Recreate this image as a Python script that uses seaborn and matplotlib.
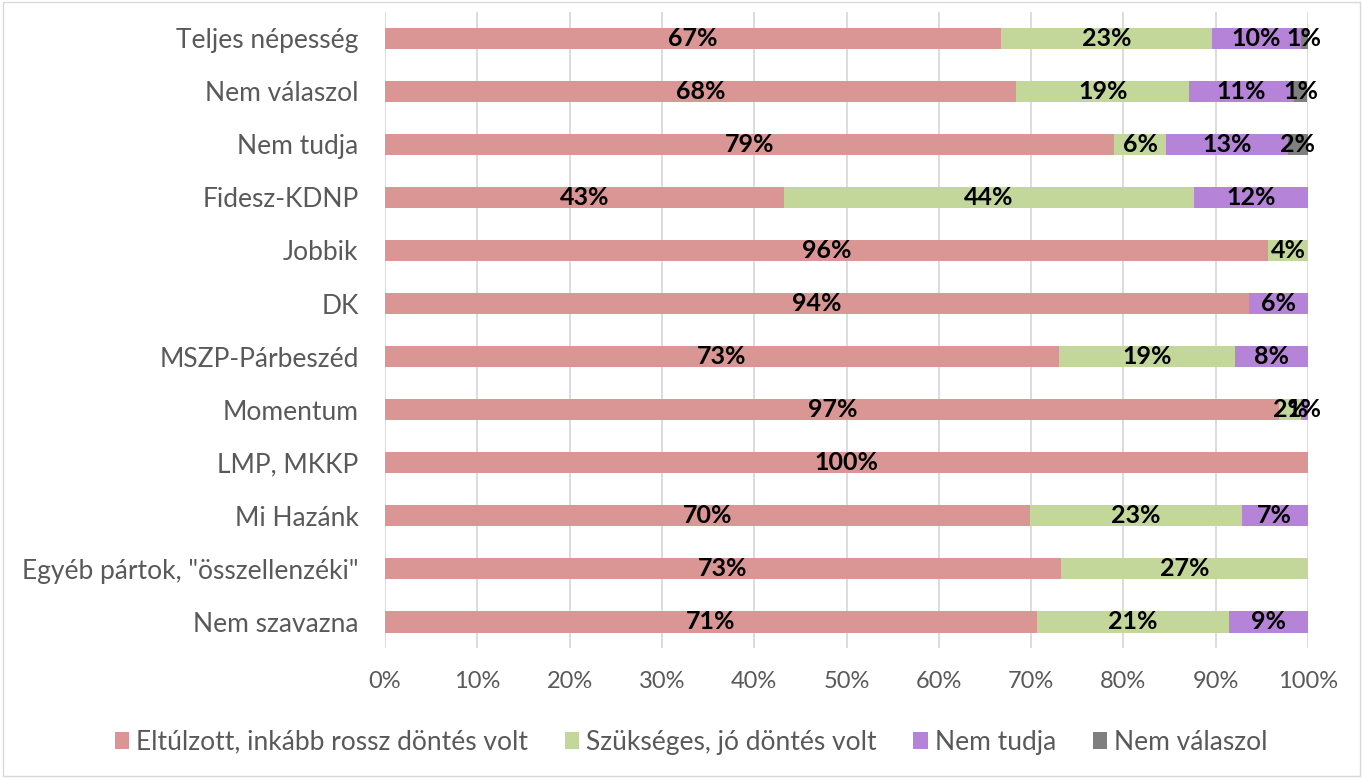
import matplotlib
matplotlib.use("Agg")
import matplotlib.pyplot as plt
import seaborn as sns
import pandas as pd
import numpy as np
from matplotlib.patches import Patch, Rectangle

categories = ["Teljes népesség", "Nem válaszol", "Nem tudja", "Fidesz-KDNP", "Jobbik", "DK",
              "MSZP-Párbeszéd", "Momentum", "LMP, MKKP", "Mi Hazánk",
              "Egyéb pártok, \"összellenzéki\"", "Nem szavazna"]
series_names = ["Eltúlzott, inkább rossz döntés volt", "Szükséges, jó döntés volt",
                "Nem tudja", "Nem válaszol"]
eltulzott = [66.7, 68.4, 79.0, 43.2, 95.7, 93.6, 73.0, 96.9, 100.0, 69.9, 73.2, 70.6]
szukseges = [22.9, 18.7, 5.6, 44.4, 4.3, 0.0, 19.1, 2.3, 0.0, 22.9, 26.8, 20.8]
nem_tudja = [9.6, 11.4, 13.2, 12.4, 0.0, 6.4, 7.9, 0.8, 0.0, 7.2, 0.0, 8.6]
nem_valaszol = [0.8, 1.4, 2.2, 0.0, 0.0, 0.0, 0.0, 0.0, 0.0, 0.0, 0.0, 0.0]
colors = ["#D99694", "#C4D79B", "#B584D8", "#7F7F7F"]

sns.set_theme(style="white")
plt.rcParams["font.family"] = ["Lato", "DejaVu Sans"]

vals = np.array([eltulzott, szukseges, nem_tudja, nem_valaszol])
cum = np.cumsum(vals, axis=0)

fig = plt.figure(figsize=(13.63, 7.78), dpi=100)
ax = fig.add_axes([0.2825, 0.1665, 0.9597 - 0.2825, 0.985 - 0.1665])

for i in reversed(range(4)):
    df = pd.DataFrame({"cat": categories, "val": cum[i]})
    sns.barplot(data=df, x="val", y="cat", order=categories, color=colors[i],
                orient="h", width=0.4, ax=ax, saturation=1, edgecolor="none")

for i in range(4):
    for j, cat in enumerate(categories):
        v = vals[i, j]
        if v <= 0:
            continue
        start = cum[i, j] - v
        ax.text(start + v / 2, j, f"{v:.0f}%", ha="center", va="center",
                fontsize=18, fontweight="bold", color="black")

ax.set_xlim(0, 100)
ax.set_ylim(len(categories) - 0.5, -0.5)
ax.set_xticks(np.arange(0, 101, 10))
ax.set_xticklabels([f"{t}%" for t in range(0, 101, 10)])
ax.set_xlabel("")
ax.set_ylabel("")
ax.grid(axis="x", color="#D9D9D9", linewidth=1.3)
ax.set_axisbelow(True)
for s in ax.spines.values():
    s.set_visible(False)
ax.tick_params(axis="x", length=0, pad=16, labelsize=17, labelcolor="#595959")
ax.tick_params(axis="y", length=0, pad=19, labelsize=19, labelcolor="#595959")

handles = [Patch(facecolor=c, edgecolor="none") for c in colors]
fig.legend(handles, series_names, loc="center", bbox_to_anchor=(0.507, 0.046), ncol=4,
           frameon=False, fontsize=19, labelcolor="#595959", handlelength=0.55,
           handleheight=0.6, handletextpad=0.25, columnspacing=1.4)

fig.patches.append(Rectangle((0.002, 0.002), 0.996, 0.996, transform=fig.transFigure,
                             fill=False, edgecolor="#D9D9D9", linewidth=1))

fig.savefig("out.png", dpi=100)
